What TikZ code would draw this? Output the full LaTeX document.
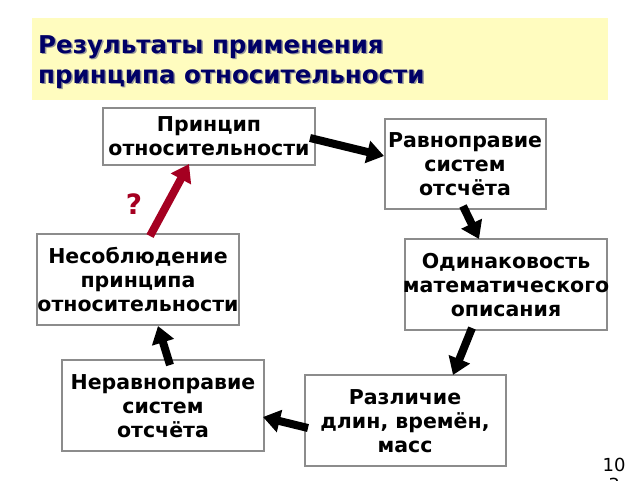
\documentclass[tikz,border=0pt]{standalone}
\usepackage{fontspec}
\setmainfont{DejaVu Sans}
\usetikzlibrary{arrows.meta}
\definecolor{ttl}{HTML}{000066}
\definecolor{redar}{HTML}{A50021}
\begin{document}
\begin{tikzpicture}[x=1pt,y=-1pt,
  bx/.style={draw=black!45,line width=2.5pt,fill=white},
  tx/.style={font=\fontsize{20.5}{24}\selectfont\bfseries,align=center,inner sep=0pt},
  ar/.style={line width=8pt,-{Triangle[length=17pt,width=22pt]}}]
\useasboundingbox[fill=white] (0,0) rectangle (640,480);
\fill[yellow!25] (32,18) rectangle (608,100);
\foreach \c/\d in {black!40/1.5,ttl/0}{
\node[anchor=west,text=\c,font=\fontsize{24.5}{30}\selectfont\bfseries,align=left,inner sep=0pt] at (38+\d,62+\d) {Результаты применения\\принципа относительности};}
\draw[bx] (103,108) rectangle (315,165);
\node[tx] (p) at (209,136) {Принцип\\относительности};
\draw[bx] (385,119) rectangle (546,209);
\node[tx] (r) at (465,164) {Равноправие\\систем\\отсчёта};
\draw[bx] (37,234) rectangle (239,325);
\node[tx] (n) at (138,280) {Несоблюдение\\принципа\\относительности};
\draw[bx] (405,239) rectangle (607,330);
\node[tx] (o) at (506,285) {Одинаковость\\математического\\описания};
\draw[bx] (62,360) rectangle (264,451);
\node[tx] (q) at (163,406) {Неравноправие\\систем\\отсчёта};
\draw[bx] (305,375) rectangle (506,466);
\node[tx] (d) at (405,421) {Различие\\длин, времён,\\масс};
\coordinate (a1) at (310,138); \coordinate (b1) at (384,156);
\coordinate (a2) at (463,206); \coordinate (b2) at (479,239);
\coordinate (a3) at (472,328); \coordinate (b3) at (453,375);
\coordinate (a4) at (308,428); \coordinate (b4) at (263,417);
\coordinate (a5) at (170,365); \coordinate (b5) at (158,326);
\coordinate (a6) at (150,236); \coordinate (b6) at (189,164);
\draw[ar] (a1) -- (b1);
\draw[ar] (a2) -- (b2);
\draw[ar] (a3) -- (b3);
\draw[ar] (a4) -- (b4);
\draw[ar] (a5) -- (b5);
\draw[ar,redar] (a6) -- (b6);
\node[text=redar,font=\fontsize{28}{30}\selectfont\bfseries] (qm) at (134,204) {?};
\node[font=\fontsize{18}{20}\selectfont,align=center,anchor=north,inner sep=0pt] (num) at (614,458) {10\\3};
\end{tikzpicture}
\end{document}
